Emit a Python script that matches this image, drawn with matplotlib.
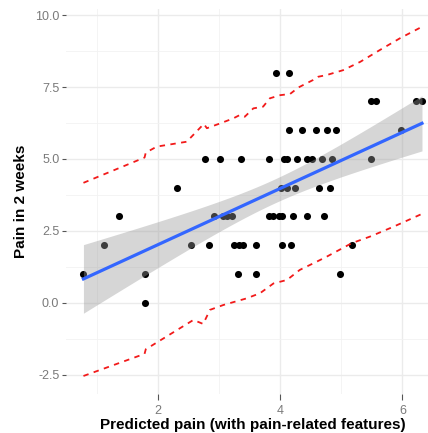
import numpy as np
import matplotlib
matplotlib.use("Agg")
import matplotlib.pyplot as plt

plt.rcParams["font.family"] = ["Liberation Sans", "DejaVu Sans"]

# observed points: predicted pain (x) vs pain in 2 weeks (y)
pred = [3.93, 4.14,
        5.49, 5.57, 6.23, 6.32,
        4.14, 4.35, 4.59, 4.77, 4.91, 5.97,
        2.77, 3.01, 3.36, 3.81, 4.07, 4.11, 4.28, 4.44, 4.52, 4.68, 4.85, 5.49,
        2.31, 4.02, 4.11, 4.25, 4.63, 4.81,
        1.37, 2.91, 3.07, 3.13, 3.21, 3.81, 3.89, 3.98, 4.03, 4.21, 4.44, 4.72,
        1.12, 2.54, 2.83, 3.25, 3.32, 3.39, 3.61, 4.03, 4.17, 5.18,
        0.78, 1.79, 3.31, 3.61, 4.98,
        1.79]
pain = [8, 8,
        7, 7, 7, 7,
        6, 6, 6, 6, 6, 6,
        5, 5, 5, 5, 5, 5, 5, 5, 5, 5, 5, 5,
        4, 4, 4, 4, 4, 4,
        3, 3, 3, 3, 3, 3, 3, 3, 3, 3, 3, 3,
        2, 2, 2, 2, 2, 2, 2, 2, 2, 2,
        1, 1, 1, 1, 1,
        0]

# prediction interval bounds (red dashed)
upper_x = [0.78, 1.78, 1.80, 1.98, 2.47, 2.75, 2.80, 3.02, 3.23, 3.34, 3.42, 3.56,
           3.72, 3.83, 4.00, 4.16, 4.30, 4.54, 4.62, 4.76, 5.03, 5.31, 5.63, 5.96, 6.32]
upper_y = [4.17, 5.05, 5.22, 5.43, 5.60, 6.22, 6.07, 6.24, 6.41, 6.53, 6.47, 6.76,
           6.82, 7.11, 7.22, 7.26, 7.49, 7.75, 7.86, 7.92, 8.09, 8.38, 8.79, 9.20, 9.60]
lower_x = [0.78, 1.78, 1.80, 1.87, 2.58, 2.74, 2.85, 3.07, 3.45, 3.67, 3.89, 4.11,
           4.32, 4.60, 4.76, 5.17, 5.47, 5.85, 6.32]
lower_y = [-2.55, -1.78, -1.62, -1.53, -0.60, -0.74, -0.25, -0.08, 0.15, 0.33, 0.67,
           0.79, 1.14, 1.43, 1.60, 2.07, 2.30, 2.64, 3.09]

x = np.array(pred)
y = np.array(pain)

# linear fit with 95% confidence band (like geom_smooth(method="lm"))
b1, b0 = np.polyfit(x, y, 1)
n = len(x)
resid = y - (b0 + b1 * x)
s = np.sqrt(np.sum(resid ** 2) / (n - 2))
sxx = np.sum((x - x.mean()) ** 2)
xs = np.linspace(x.min(), x.max(), 80)
fit = b0 + b1 * xs
se = s * np.sqrt(1 / n + (xs - x.mean()) ** 2 / sxx)
t = 2.004

fig = plt.figure(figsize=(4.28, 4.33), dpi=100)
ax = fig.add_axes([0.1547, 0.0912, 0.8708, 0.8875])

ax.scatter(x, y, s=26, color="black", zorder=3, linewidths=0)
ax.fill_between(xs, fit - t * se, fit + t * se, color="#999999", alpha=0.4,
                linewidth=0, zorder=4)
ax.plot(xs, fit, color="#3366FF", lw=2.3, zorder=5)
ax.plot(upper_x, upper_y, color="#F21A1A", lw=1.3, ls=(0, (3, 3)), zorder=6)
ax.plot(lower_x, lower_y, color="#F21A1A", lw=1.3, ls=(0, (3, 3)), zorder=6)

ax.set_xlim(0.498, 6.597)
ax.set_ylim(-3.16, 10.21)
ax.set_xticks([2, 4, 6])
ax.set_xticks([1, 3, 5], minor=True)
ax.set_yticks([-2.5, 0, 2.5, 5, 7.5, 10])
ax.set_yticklabels(["-2.5", "0.0", "2.5", "5.0", "7.5", "10.0"])
ax.set_yticks([-1.25, 1.25, 3.75, 6.25, 8.75], minor=True)

ax.grid(True, which="major", color="#EBEBEB", lw=1.0, zorder=0)
ax.grid(True, which="minor", color="#F2F2F2", lw=0.6, zorder=0)
ax.set_axisbelow(True)
for sp in ax.spines.values():
    sp.set_visible(False)
ax.tick_params(which="major", length=3, width=0.8, color="#555555",
               labelcolor="#7A7A7A", labelsize=9, pad=2)
ax.tick_params(axis="x", which="major", length=4, pad=4)
ax.tick_params(which="minor", length=0)

ax.set_xlabel("Predicted pain (with pain-related features)", fontsize=11,
              fontweight="bold", labelpad=1)
ax.set_ylabel("Pain in 2 weeks", fontsize=11, fontweight="bold", labelpad=5)

fig.savefig("out.png", dpi=100)
